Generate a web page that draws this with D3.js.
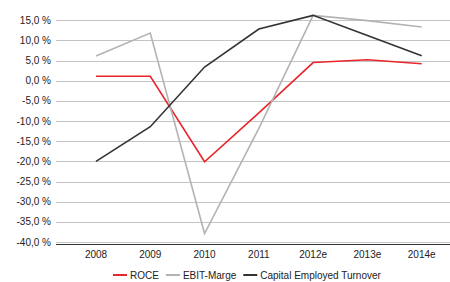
<!DOCTYPE html>
<html>
<head>
<meta charset="utf-8">
<script src="https://cdn.jsdelivr.net/npm/d3@7"></script>
<style>
  body { margin: 0; background: #fff; }
  text { font-family: "Liberation Sans", Arial, sans-serif; fill: #222; }
</style>
</head>
<body>
<div id="chart"></div>
<script>
var years = ['2008', '2009', '2010', '2011', '2012e', '2013e', '2014e'];
var roce = [1.1, 1.1, -20.1, -8.0, 4.5, 5.2, 4.2];
var ebitMarge = [6.1, 11.8, -37.9, -11.8, 16.2, 14.9, 13.3];
var capTurnover = [-20.0, -11.4, 3.4, 12.8, 16.2, 11.2, 6.2];
var yTicks = [15, 10, 5, 0, -5, -10, -15, -20, -25, -30, -35, -40];

var series = [
    {name: 'ROCE', values: roce, color: '#e8262b'},
    {name: 'EBIT-Marge', values: ebitMarge, color: '#b3b3b3'},
    {name: 'Capital Employed Turnover', values: capTurnover, color: '#333333'}
];

var svgWidth = 450, svgHeight = 282;
var svg = d3.select('#chart').append('svg')
    .attr('width', svgWidth).attr('height', svgHeight);

var x = d3.scalePoint().domain(years).range([96, 421.7]);
var y = d3.scaleLinear().domain([-40, 15]).range([242, 20.2]);
var gridLeft = 56, gridRight = 450;

// gridlines
svg.append('g').selectAll('line')
    .data(yTicks).enter().append('line')
    .attr('x1', gridLeft).attr('x2', gridRight)
    .attr('y1', d => Math.round(y(d)) + 0.5).attr('y2', d => Math.round(y(d)) + 0.5)
    .attr('stroke', '#c4c4c4').attr('stroke-width', 1.2);

// y labels
svg.append('g').selectAll('text')
    .data(yTicks).enter().append('text')
    .attr('x', 51).attr('y', d => y(d) + 3.5)
    .attr('text-anchor', 'end')
    .style('font-size', '10px')
    .text(d => d3.format('.1f')(d).replace('.', ',').replace('−', '-') + ' %');

// category axis line
svg.append('line')
    .attr('x1', gridLeft).attr('x2', gridRight)
    .attr('y1', y(-40) + 2.5).attr('y2', y(-40) + 2.5)
    .attr('stroke', '#333').attr('stroke-width', 1.2);

svg.append('g').selectAll('text')
    .data(years).enter().append('text')
    .attr('x', d => x(d)).attr('y', 257.5)
    .attr('text-anchor', 'middle')
    .style('font-size', '10px')
    .text(d => d);

var line = d3.line()
    .x((d, i) => x(years[i]))
    .y(d => y(d));

svg.append('g').selectAll('path')
    .data(series).enter().append('path')
    .attr('d', d => line(d.values))
    .attr('fill', 'none')
    .attr('stroke', d => d.color)
    .attr('stroke-width', 1.6)
    .attr('stroke-linejoin', 'miter');

// legend
var legend = svg.append('g');
var lx = 113, ly = 275;
series.forEach(function(s) {
    legend.append('line')
        .attr('x1', lx).attr('x2', lx + 14)
        .attr('y1', ly).attr('y2', ly)
        .attr('stroke', s.color).attr('stroke-width', 2);
    var t = legend.append('text')
        .attr('x', lx + 17).attr('y', ly + 3.5)
        .style('font-size', '10px')
        .text(s.name);
    lx += 17 + t.node().getComputedTextLength() + 7;
});
</script>
</body>
</html>
